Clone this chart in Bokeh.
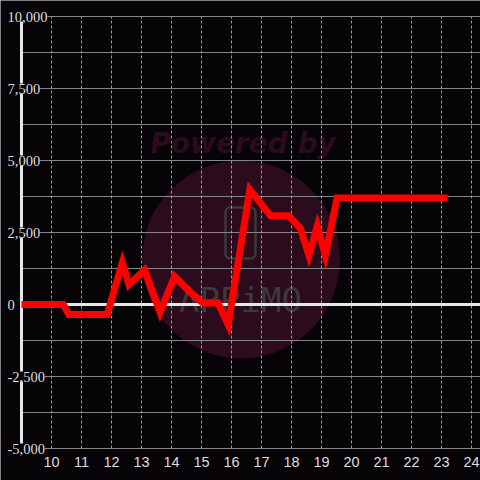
from bokeh.plotting import figure
from bokeh.models import FixedTicker, Range1d, LabelSet, ColumnDataSource, LinearAxis
from bokeh.core.properties import value
from bokeh.embed import file_html
from bokeh.resources import INLINE

# ---- data ----
x_vals = [9.0, 10.39, 10.58, 11.86, 12.36, 12.58, 13.1, 13.62, 14.1, 14.67, 15.05,
          15.55, 15.89, 16.61, 17.3, 17.9, 18.3, 18.58, 18.86, 19.13, 19.52, 23.2]
y_vals = [0, 0, -350, -350, 1450, 690, 1190, -270, 970, 380, 50,
          50, -700, 3990, 3080, 3080, 2640, 1710, 2720, 1710, 3700, 3700]

x_ticks = [10, 11, 12, 13, 14, 15, 16, 17, 18, 19, 20, 21, 22, 23, 24]
y_major = [-5000, -2500, 0, 2500, 5000, 7500, 10000]
y_labels = ["-5,000", "-2,500", "0", "2,500", "5,000", "7,500", "10,000"]
y_minor = [-3750, -1250, 1250, 3750, 6250, 8750]

# ---- style ----
BG = "#060406"
GRID = "#858585"
DASH = "#9a9a9a"
LABEL = "#dddddd"
WM = "#2c0b1c"
LOGO = "#3a3a3a"
FONT = "Liberation Sans"

X0, X1 = 8.3, 24.3
Y0, Y1 = -6111.11, 10555.56


def px_x(px):  # reference pixel -> data x
    return 9 + (px - 21) / 30.0


def px_y(py):  # reference pixel -> data y
    return (304 - py) / 0.0288


p = figure(width=480, height=480, output_backend="svg", toolbar_location=None,
           x_range=Range1d(X0, X1), y_range=Range1d(Y0, Y1),
           x_axis_location=None, y_axis_location=None, min_border=0,
           background_fill_color=BG, border_fill_color=BG, outline_line_color=None)
p.grid.visible = False

ax = LinearAxis(fixed_location=-5000, ticker=FixedTicker(ticks=x_ticks))
ax.axis_line_color = None
ax.major_tick_line_color = None
ax.minor_tick_line_color = None
ax.major_label_text_color = LABEL
ax.major_label_text_font = FONT
ax.major_label_text_font_size = "14.5px"
ax.major_label_standoff = 2
p.add_layout(ax, "below")

# ---- watermark ----
p.scatter(x=[px_x(240.5)], y=[px_y(259)], marker="circle", size=198,
          fill_color=WM, line_color=None)
p.text(x=[px_x(242.5)], y=[px_y(143)], text=["Powered by"],
       text_font=value("DejaVu Sans"), text_font_style="bold italic",
       text_font_size="28px", text_color=WM, text_align="center",
       text_baseline="alphabetic")
p.rect(x=[px_x(240)], y=[px_y(232.5)], width=30, height=51,
       width_units="screen", height_units="screen", fill_color=None,
       line_color=LOGO, line_width=2.5, border_radius=5)
p.text(x=[px_x(240)], y=[px_y(299)], text=["APPiMO"],
       text_font=value("DejaVu Sans Mono"), text_font_size="34px",
       text_color=LOGO, text_align="center", text_baseline="alphabetic")

# ---- grid ----
all_h = y_minor + y_major
p.segment(x0=[9] * len(all_h), x1=[X1] * len(all_h), y0=all_h, y1=all_h,
          line_color=GRID, line_width=1)
p.segment(x0=x_ticks, x1=x_ticks, y0=[-5000] * len(x_ticks),
          y1=[10000] * len(x_ticks), line_color=DASH, line_width=1,
          line_dash="3 2")
# zero line and y axis line
p.segment(x0=[9], x1=[X1], y0=[0], y1=[0], line_color="#e6e6e6", line_width=3)
p.segment(x0=[9], x1=[9], y0=[-5000], y1=[10000], line_color="#e6e6e6",
          line_width=3)

# ---- series ----
p.line(x=x_vals, y=y_vals, line_color="#ff0000", line_width=7,
       line_join="miter", line_cap="butt")

# y tick labels with background boxes
lab_src = ColumnDataSource(dict(x=[px_x(7)] * len(y_major), y=y_major, text=y_labels))
p.add_layout(LabelSet(x="x", y="y", text="text", source=lab_src,
                      text_font=FONT, text_font_size="14.5px", text_color=LABEL,
                      text_align="left", text_baseline="middle",
                      background_fill_color=BG))

open("out.html", "w").write(file_html(p, INLINE))
